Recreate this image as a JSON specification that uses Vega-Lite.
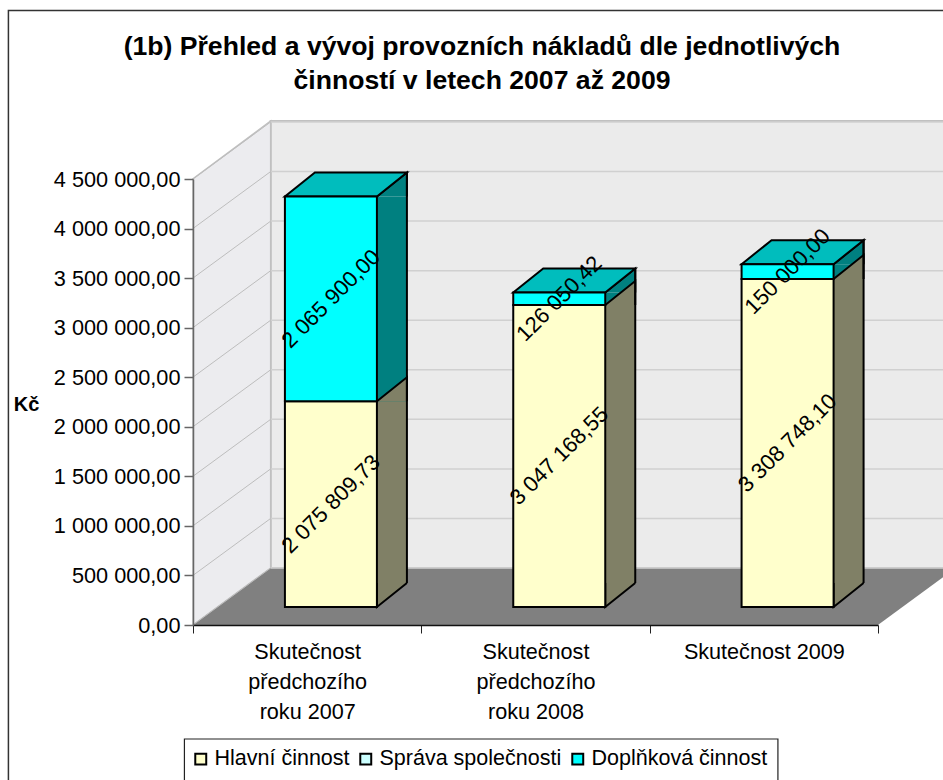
{"$schema":"https://vega.github.io/schema/vega-lite/v6.json","width":685,"height":446,"padding":{"left":193,"top":179,"right":65,"bottom":155},"autosize":{"type":"none"},"background":"#ffffff",
"config":{"font":"Liberation Sans","view":{"stroke":null},"locale":{"number":{"decimal":",","thousands":" ","grouping":[3],"currency":["",""]}}},
"title":{"text":["(1b) Přehled a vývoj provozních nákladů dle jednotlivých","činností v letech 2007 až 2009"],"anchor":"middle","frame":"group","font":"Liberation Sans","fontSize":26.6,"fontWeight":"bold","color":"#000000","lineHeight":34,"offset":0,"dx":-53.5,"dy":108,"baseline":"alphabetic"},
"datasets":{"naklady":[
{"cat":"Skutečnost předchozího roku 2007","serie":"Hlavní činnost","value":2075809.73},
{"cat":"Skutečnost předchozího roku 2007","serie":"Doplňková činnost","value":2065900.00},
{"cat":"Skutečnost předchozího roku 2008","serie":"Hlavní činnost","value":3047168.55},
{"cat":"Skutečnost předchozího roku 2008","serie":"Doplňková činnost","value":126050.42},
{"cat":"Skutečnost 2009","serie":"Hlavní činnost","value":3308748.10},
{"cat":"Skutečnost 2009","serie":"Doplňková činnost","value":150000.00}],
"mrizka":[{"v":0},{"v":500000},{"v":1000000},{"v":1500000},{"v":2000000},{"v":2500000},{"v":3000000},{"v":3500000},{"v":4000000},{"v":4500000}],
"osa":[{"cat":"Skutečnost předchozího roku 2007","v":0}],
"kategorie":[{"cat":"Skutečnost předchozího roku 2007","v":0},{"cat":"Skutečnost předchozího roku 2008","v":0},{"cat":"Skutečnost 2009","v":0}]},
"data":{"name":"osa"},
"encoding":{"x":{"field":"cat","type":"nominal","sort":null,"title":null,"scale":{"domain":["Skutečnost předchozího roku 2007","Skutečnost předchozího roku 2008","Skutečnost 2009"],"paddingInner":0,"paddingOuter":0},"axis":{"zindex":1,"tickBand":"extent","tickSize":8,"tickColor":"#222222","domainColor":"#111111","domainWidth":1.5,"labelAngle":0,"labelFontSize":21.6,"labelColor":"#000000","labelPadding":8,"labelLineHeight":30,"labelLimit":300,"labelExpr":"indexof(datum.label,'roku')>=0 ? ['Skutečnost','předchozího',slice(datum.label,-9)] : datum.label"}},
"y":{"field":"v","type":"quantitative","scale":{"domain":[0,4500000],"nice":false},"title":"Kč","axis":{"zindex":1,"values":[0,500000,1000000,1500000,2000000,2500000,3000000,3500000,4000000,4500000],"format":",.2f","grid":false,"tickSize":9,"tickWidth":1.5,"tickColor":"#666666","domainColor":"#666666","domainWidth":1.5,"labelFontSize":21.7,"labelColor":"#000000","labelPadding":4,"titleAngle":0,"titleFontSize":20,"titleFontWeight":"bold","titleColor":"#000000","titleX":-167,"titleY":225,"titleAlign":"center","titleBaseline":"middle"}}},
"layer":[
{"mark":{"type":"point","filled":true,"size":4,"opacity":1,"fill":"#ebebeb","stroke":"#c0c0c0","strokeWidth":2,"shape":"M-36.5,-57L-36.5,-504L700,-504L700,-57Z"}},
{"mark":{"type":"point","filled":true,"size":4,"opacity":1,"fill":"#ececef","stroke":"#c0c0c0","strokeWidth":1.5,"shape":"M-114.25,0L-114.25,-446L-36.5,-504L-36.5,-57Z"}},
{"mark":{"type":"point","filled":true,"size":4,"opacity":1,"fill":"#808080","stroke":null,"shape":"M-114.25,0L570.75,0L648.5,-57L-36.5,-57Z"}},
{"data":{"name":"mrizka"},"mark":{"type":"point","filled":false,"size":4,"opacity":1,"stroke":"#d0d0d0","strokeWidth":1.5,"shape":"M-36.5,-57L700,-57"},"encoding":{"x":{"datum":"Skutečnost předchozího roku 2007"}}},
{"data":{"name":"mrizka"},"mark":{"type":"point","filled":false,"size":4,"opacity":1,"stroke":"#bdbdbd","strokeWidth":1,"shape":"M-114.25,0L-36.5,-57"},"encoding":{"x":{"datum":"Skutečnost předchozího roku 2007"}}},

{"data":{"name":"naklady"},"transform":[{"stack":"value","groupby":["cat"],"sort":[{"field":"serie","order":"descending"}],"as":["y0","y1"]},{"filter":"datum.serie==='Doplňková činnost'"}],"mark":{"type":"bar","size":30,"xOffset":84.75,"yOffset":-18,"y2Offset":-42,"fill":"#008080","stroke":null},"encoding":{"y":{"field":"y1","type":"quantitative"},"y2":{"datum":0}}},
{"data":{"name":"naklady"},"transform":[{"stack":"value","groupby":["cat"],"sort":[{"field":"serie","order":"descending"}],"as":["y0","y1"]},{"filter":"datum.serie==='Doplňková činnost'"}],"mark":{"type":"point","filled":true,"size":4,"opacity":1,"fill":"#008080","stroke":"#000000","strokeWidth":2,"shape":"M69.75,-18L99.75,-42L99.75,-18"},"encoding":{"y":{"field":"y1","type":"quantitative"}}},
{"data":{"name":"naklady"},"transform":[{"stack":"value","groupby":["cat"],"sort":[{"field":"serie","order":"descending"}],"as":["y0","y1"]},{"filter":"datum.serie==='Hlavní činnost'"}],"mark":{"type":"bar","size":30,"xOffset":84.75,"yOffset":-18,"y2Offset":-42,"fill":"#808066","stroke":null},"encoding":{"y":{"field":"y1","type":"quantitative"},"y2":{"datum":0}}},
{"data":{"name":"naklady"},"transform":[{"stack":"value","groupby":["cat"],"sort":[{"field":"serie","order":"descending"}],"as":["y0","y1"]},{"filter":"datum.serie==='Hlavní činnost'"}],"mark":{"type":"point","filled":true,"size":4,"opacity":1,"fill":"#808066","stroke":"#000000","strokeWidth":2,"shape":"M69.75,-18L99.75,-42L99.75,-18"},"encoding":{"y":{"field":"y1","type":"quantitative"}}},
{"data":{"name":"kategorie"},"mark":{"type":"point","filled":true,"size":4,"opacity":1,"fill":"#808066","stroke":"#000000","strokeWidth":2,"shape":"M69.75,-42L69.75,-18L99.75,-42"}},
{"data":{"name":"naklady"},"transform":[{"stack":"value","groupby":["cat"],"sort":[{"field":"serie","order":"descending"}],"as":["y0","y1"]},{"filter":"datum.serie==='Doplňková činnost'"}],"mark":{"type":"rule","xOffset":99.75,"yOffset":-42,"y2Offset":-42,"stroke":"#000000","strokeWidth":2},"encoding":{"y":{"field":"y1","type":"quantitative"},"y2":{"datum":0}}},
{"data":{"name":"naklady"},"transform":[{"stack":"value","groupby":["cat"],"sort":[{"field":"serie","order":"descending"}],"as":["y0","y1"]},{"filter":"datum.serie==='Doplňková činnost'"}],"mark":{"type":"point","filled":true,"size":4,"opacity":1,"fill":"#00bdbd","stroke":"#000000","strokeWidth":2,"shape":"M-22.25,-18L69.75,-18L99.75,-42L7.75,-42Z"},"encoding":{"y":{"field":"y1","type":"quantitative"}}},
{"data":{"name":"naklady"},"transform":[{"stack":"value","groupby":["cat"],"sort":[{"field":"serie","order":"descending"}],"as":["y0","y1"]}],"mark":{"type":"bar","size":92,"xOffset":23.75,"yOffset":-18,"y2Offset":-18,"stroke":"#000000","strokeWidth":2},"encoding":{"y":{"field":"y1","type":"quantitative"},"y2":{"field":"y0"},"color":{"field":"serie","type":"nominal","scale":{"domain":["Hlavní činnost","Správa společnosti","Doplňková činnost"],"range":["#ffffcc","#ccffff","#00ffff"]},"legend":{"title":null,"orient":"none","direction":"horizontal","columns":3,"legendX":-3,"legendY":569,"symbolType":"square","symbolSize":120,"symbolStrokeColor":"#000000","symbolStrokeWidth":2,"labelFontSize":21.5,"labelColor":"#000000","labelLimit":300,"labelOffset":3,"columnPadding":5,"symbolOpacity":1,"padding":0}}}},
{"data":{"name":"naklady"},"transform":[{"stack":"value","groupby":["cat"],"sort":[{"field":"serie","order":"descending"}],"as":["y0","y1"]},{"calculate":"(datum.y0+datum.y1)/2","as":"stred"}],"mark":{"type":"text","angle":315,"align":"center","baseline":"middle","fontSize":22,"fill":"#000000","xOffset":23.75,"yOffset":-18},"encoding":{"y":{"field":"stred","type":"quantitative"},"text":{"field":"value","type":"quantitative","format":",.2f"}}},
{"mark":{"type":"point","filled":false,"size":4,"opacity":1,"stroke":"#333333","strokeWidth":1.5,"shape":"M-298.75,200L-298.75,-614.5L700,-614.5"}},
{"mark":{"type":"point","filled":false,"size":4,"opacity":1,"stroke":"#222222","strokeWidth":1.2,"shape":"M-122.75,200L-122.75,114L470.75,114L470.75,200"}}
]}
